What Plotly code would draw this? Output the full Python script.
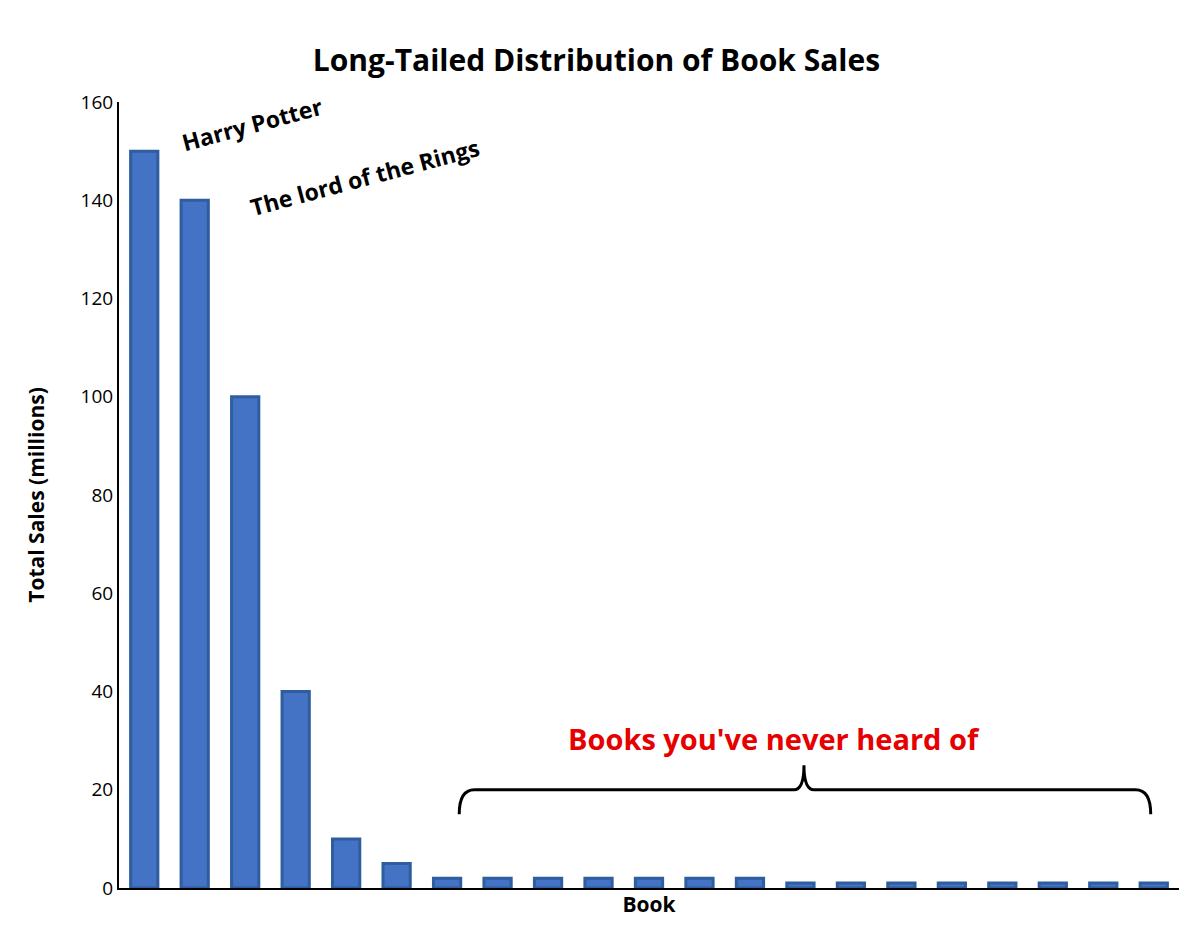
import plotly.graph_objects as go

# ── DATA ─────────────────────────────────────────────
books = list(range(1, 22))
sales = [150, 140, 100, 40, 10, 5,
         2, 2, 2, 2, 2, 2, 2,
         1, 1, 1, 1, 1, 1, 1, 1]

fnt = 'Open Sans, Liberation Sans, sans-serif'

fig = go.Figure(go.Bar(
    x=books, y=sales,
    marker=dict(color='#4472C4', line=dict(color='#2F5E9E', width=3)),
))

# curly brace over the tail
x0, x1, xm = 7.24, 20.94, 14.07
y_end, y_mid, y_tip = 15, 20, 25
brace = (f'M {x0},{y_end} Q {x0},{y_mid} {x0+0.3},{y_mid} '
         f'L {xm-0.2},{y_mid} Q {xm},{y_mid} {xm},{y_tip} '
         f'Q {xm},{y_mid} {xm+0.2},{y_mid} '
         f'L {x1-0.3},{y_mid} Q {x1},{y_mid} {x1},{y_end}')
fig.add_shape(type='path', path=brace, xref='x', yref='y',
              line=dict(color='black', width=3))

fig.add_annotation(x=13.47, y=30.5, text="<b>Books you've never heard of</b>",
                   showarrow=False, font=dict(size=29, color='#E60000', family=fnt))
fig.add_annotation(x=3.14, y=155.5, text='<b>Harry Potter</b>', textangle=-15,
                   showarrow=False, font=dict(size=23, color='black', family=fnt))
fig.add_annotation(x=5.37, y=144.7, text='<b>The lord of the Rings</b>', textangle=-15,
                   showarrow=False, font=dict(size=23, color='black', family=fnt))

fig.update_layout(
    width=1201, height=938,
    template='plotly_white',
    margin=dict(l=111, r=30, t=94, b=58, autoexpand=False),
    bargap=0.46,
    showlegend=False,
    font=dict(family=fnt, color='black'),
    title=dict(text='<b>Long-Tailed Distribution of Book Sales</b>',
               x=0.49, xanchor='center', y=0.955, font=dict(size=30)),
)
fig.update_xaxes(range=[0.5, 21.5], showticklabels=False, showgrid=False,
                 showline=True, linecolor='black', linewidth=2, automargin=False,
                 title=dict(text='<b>Book</b>', font=dict(size=21), standoff=8))
fig.update_yaxes(range=[0, 160], dtick=20, showgrid=False, zeroline=False,
                 showline=True, linecolor='black', linewidth=2, automargin=False,
                 tickfont=dict(size=19), ticks='',
                 title=dict(text='<b>Total Sales (millions)</b>', font=dict(size=21), standoff=30))

fig.write_html('out.html')
